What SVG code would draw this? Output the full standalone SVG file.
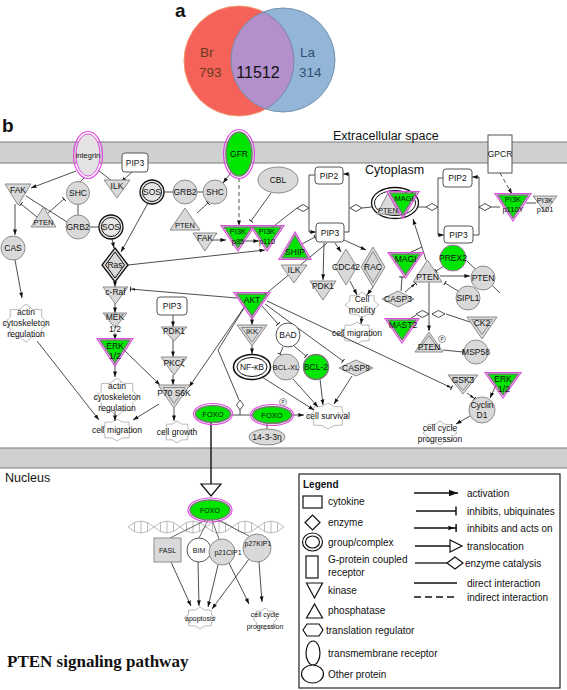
<svg xmlns="http://www.w3.org/2000/svg" width="567" height="690" viewBox="0 0 567 690">
<defs>
<style>
text{font-family:"Liberation Sans",Arial,sans-serif;fill:#111;text-anchor:middle}
.l{font-size:8.5px}
.s{font-size:7.5px}
.xs{font-size:7px}
.lg{font-size:10px;text-anchor:start}
.hd{font-size:12.5px;text-anchor:start}
.e{fill:none;stroke:#222;stroke-width:0.8}
.n{fill:none;stroke:#444;stroke-width:0.8}
.d{stroke-dasharray:4,3}
.g{fill:#d9d9d9;stroke:#8c8c8c;stroke-width:1}
.gi{fill:none;stroke:#8c8c8c;stroke-width:1}
.w{fill:#fff;stroke:#555;stroke-width:1}
.gr{fill:#00e600;stroke:#7a7a7a;stroke-width:1.5}
.mg{fill:none;stroke:#e04ce0;stroke-width:1.2}
.k{fill:#fff;stroke:#111;stroke-width:1.3}
.ki{fill:none;stroke:#111;stroke-width:1}
.ls{fill:#fff;stroke:#111;stroke-width:1.2}
.le{fill:none;stroke:#111;stroke-width:1.3}
.band{fill:#d0d0d0;stroke:#7a7a7a;stroke-width:1}
.dna{fill:none;stroke:#a8a8a8;stroke-width:0.8}
</style>
<clipPath id="cr"><circle cx="239" cy="61" r="55"/></clipPath>
<clipPath id="cb"><circle cx="283" cy="60" r="52"/></clipPath>
<marker id="a" viewBox="0 0 10 10" refX="10" refY="5" markerWidth="7" markerHeight="7" orient="auto"><path d="M0,1.5 L10,5 L0,8.5z" fill="#111"/></marker>
<marker id="b" viewBox="0 0 10 10" refX="8" refY="5" markerWidth="7" markerHeight="7" orient="auto"><path d="M8,0 V10" stroke="#111" stroke-width="1.6"/></marker>
<marker id="ab" viewBox="0 0 10 10" refX="9.5" refY="5" markerWidth="7" markerHeight="7" orient="auto"><path d="M0,2.5 L7,5 L0,7.5z" fill="#111"/><path d="M8.5,0.5 V9.5" stroke="#111" stroke-width="1.6"/></marker>
<polygon id="st" points="1,0 0.72,0.3 0.71,0.71 0.3,0.72 0,1 -0.3,0.72 -0.71,0.71 -0.72,0.3 -1,0 -0.72,-0.3 -0.71,-0.71 -0.3,-0.72 0,-1 0.3,-0.72 0.71,-0.71 0.72,-0.3" fill="#fff" stroke="#a8a8a8" stroke-width="0.8" vector-effect="non-scaling-stroke"/>
</defs>
<rect width="567" height="690" fill="#fff"/>

<g id="panel-a">
<text x="175" y="17" style="font-size:19px;font-weight:bold;text-anchor:start">a</text>
<circle cx="239" cy="61" r="55" fill="#f4625a" stroke="#f09a70" stroke-width="1"/>
<circle cx="283" cy="60" r="52" fill="#93b6d8"/>
<circle cx="283" cy="60" r="52" fill="#b38fcb" clip-path="url(#cr)"/>
<circle cx="239" cy="61" r="55" fill="none" stroke="#6e7f95" stroke-width="0.8" clip-path="url(#cb)"/>
<circle cx="283" cy="60" r="52" fill="none" stroke="#6e8ca8" stroke-width="0.9"/>
<text x="200" y="57" style="font-size:13.5px;text-anchor:start;fill:#6b3a20">Br</text>
<text x="199" y="77" style="font-size:13.5px;text-anchor:start;fill:#6b3a20">793</text>
<text x="258" y="78" style="font-size:16px">11512</text>
<text x="300" y="57" style="font-size:13.5px;text-anchor:start;fill:#2f5070">La</text>
<text x="299" y="77" style="font-size:13.5px;text-anchor:start;fill:#2f5070">314</text>
</g>

<g id="panel-b-frame">
<text x="2" y="132" style="font-size:19px;font-weight:bold;text-anchor:start">b</text>
<rect x="-1" y="142" width="569" height="21" class="band"/>
<rect x="-1" y="448" width="569" height="20" class="band"/>
<text x="333" y="140" class="hd">Extracellular space</text>
<text x="365" y="174" class="hd">Cytoplasm</text>
<text x="5" y="482" class="hd">Nucleus</text>
<text x="7" y="667" style="font-family:'Liberation Serif','Times New Roman',serif;font-size:17px;font-weight:bold;text-anchor:start">PTEN signaling pathway</text>
</g>

<g id="dna">
<path class="dna" d="M128,527 Q141,515 154,527 T180,527 T206,527 T232,527 T258,527 T284,527"/>
<path class="dna" d="M128,527 Q141,539 154,527 T180,527 T206,527 T232,527 T258,527 T284,527"/>
<path class="dna" d="M134.5,522.5V531.5M141,521V533M147.5,522.5V531.5M160.5,522.5V531.5M167,521V533M173.5,522.5V531.5M186.5,522.5V531.5M193,521V533M199.5,522.5V531.5M212.5,522.5V531.5M219,521V533M225.5,522.5V531.5M238.5,522.5V531.5M245,521V533M251.5,522.5V531.5M264.5,522.5V531.5M271,521V533M277.5,522.5V531.5"/>
</g>

<g id="functions">
<use href="#st" transform="translate(26,323) scale(22,19)"/>
<use href="#st" transform="translate(117,397) scale(22,19)"/>
<use href="#st" transform="translate(117,430) scale(17,11)"/>
<use href="#st" transform="translate(177,432) scale(15,11)"/>
<use href="#st" transform="translate(328,416) scale(20,13)"/>
<use href="#st" transform="translate(362,305) scale(17,13)"/>
<use href="#st" transform="translate(357,333) scale(17,11)"/>
<use href="#st" transform="translate(440,433) scale(17,12)"/>
<use href="#st" transform="translate(200,618) scale(16,11)"/>
<use href="#st" transform="translate(265,619) scale(12,11)"/>
</g>

<g id="edges">
<path class="e" d="M76,171 L31,188" marker-end="url(#a)"/>
<path class="e" d="M84,178 L80,182"/>
<path class="e" d="M98,170 L112,181"/>
<path class="e" d="M132,172 L121,182" marker-end="url(#a)"/>
<path class="e" d="M78,204 L78,215"/>
<path class="e" d="M90,227 L99,227"/>
<path class="e" d="M26,196 L67,222"/>
<path class="e" d="M37,217 L21,204" marker-end="url(#b)"/>
<path class="e" d="M47,214 L64,199" marker-end="url(#b)"/>
<path class="e" d="M15,204 L15,235" marker-end="url(#a)"/>
<path class="e" d="M112,239 L114,248" marker-end="url(#a)"/>
<path class="e" d="M148,203 L121,252" marker-end="url(#a)"/>
<path class="e" d="M164,192 L173,192"/>
<path class="e" d="M197,192 L203,192"/>
<path class="e" d="M197,213 L208,203" marker-end="url(#b)"/>
<path class="e" d="M233,170 L223,183" marker-end="url(#a)"/>
<path class="e d" d="M239,178 L239,226" marker-end="url(#a)"/>
<path class="e" d="M271,193 L251,221" marker-end="url(#b)"/>
<path class="e" d="M213,240 L226,240" marker-end="url(#a)"/>
<path class="e" d="M244,241 L259,241" marker-end="url(#a)"/>
<path class="e" d="M128,265 L265,250" marker-end="url(#a)"/>
<path class="e" d="M270,229 L297,208"/>
<path class="e" d="M315,175 H309 V232 H316" marker-end="url(#a)"/>
<path class="e" d="M344,232 H349 V174 H343" marker-end="url(#a)"/>
<path class="e" d="M362,208 L372,207"/>
<path class="e" d="M443,178 H438 V235 H444" marker-end="url(#a)"/>
<path class="e" d="M473,235 H479 V177 H472" marker-end="url(#a)"/>
<path class="e" d="M418,207 L426,207"/>
<path class="e" d="M491,207 L500,207"/>
<path class="e d" d="M500,173 L512,194" marker-end="url(#a)"/>
<path class="e" d="M526,203 L536,203"/>
<path class="e" d="M302,244 L315,237" marker-end="url(#b)"/>
<path class="e" d="M327,243 L262,297" marker-end="url(#a)"/>
<path class="e" d="M324,243 L323,280" marker-end="url(#a)"/>
<path class="e" d="M335,243 L341,252" marker-end="url(#a)"/>
<path class="e" d="M344,240 L366,250" marker-end="url(#a)"/>
<path class="e" d="M350,281 L357,295" marker-end="url(#a)"/>
<path class="e" d="M373,287 L367,295" marker-end="url(#a)"/>
<path class="e" d="M362,316 L361,324" marker-end="url(#a)"/>
<path class="e" d="M426,260 L413,219" marker-end="url(#a)"/>
<path class="e" d="M407,254 L422,247"/>
<path class="e" d="M444,266 L436,271" marker-end="url(#b)"/>
<path class="e" d="M440,276 L470,276" marker-end="url(#a)"/>
<path class="e" d="M467,261 L500,293"/>
<path class="e" d="M458,291 L445,283" marker-end="url(#b)"/>
<path class="e" d="M405,292 L416,283" marker-end="url(#ab)"/>
<path class="e" d="M401,291 L402,277" marker-end="url(#b)"/>
<path class="e" d="M429,282 L429,331" marker-end="url(#a)"/>
<path class="e" d="M405,322 L416,315"/>
<path class="e" d="M470,322 L446,314"/>
<path class="e" d="M443,350 L463,352" marker-end="url(#b)"/>
<path class="e" d="M267,301 L452,388" marker-end="url(#ab)"/>
<path class="e" d="M467,393 L475,399" marker-end="url(#ab)"/>
<path class="e" d="M496,385 L490,398" marker-end="url(#a)"/>
<path class="e" d="M470,416 L456,424" marker-end="url(#a)"/>
<path class="e" d="M15,260 L22,298" marker-end="url(#a)"/>
<path class="e" d="M37,341 L99,420" marker-end="url(#a)"/>
<path class="e" d="M115,281 L115,287" marker-end="url(#a)"/>
<path class="e" d="M115,303 L115,313" marker-end="url(#a)"/>
<path class="e" d="M115,333 L115,340" marker-end="url(#a)"/>
<path class="e" d="M115,363 L115,377" marker-end="url(#a)"/>
<path class="e" d="M124,350 L160,385" marker-end="url(#a)"/>
<path class="e" d="M115,411 L115,421" marker-end="url(#a)"/>
<path class="e" d="M159,404 L133,420" marker-end="url(#a)"/>
<path class="e" d="M174,408 L174,421" marker-end="url(#a)"/>
<path class="e" d="M173,315 L173,327" marker-end="url(#a)"/>
<path class="e" d="M173,340 L173,357" marker-end="url(#a)"/>
<path class="e" d="M173,375 L173,385" marker-end="url(#a)"/>
<path class="e" d="M237,298 L130,289" marker-end="url(#ab)"/>
<path class="e" d="M245,306 L189,387" marker-end="url(#a)"/>
<path class="e" d="M252,316 L252,325" marker-end="url(#a)"/>
<path class="e" d="M262,306 L278,324" marker-end="url(#b)"/>
<path class="e" d="M265,304 L343,361" marker-end="url(#b)"/>
<path class="e" d="M244,308 L218,350 L239,400"/>
<path class="e" d="M252,345 L252,354" marker-end="url(#a)"/>
<path class="e" d="M283,347 L280,354" marker-end="url(#b)"/>
<path class="e" d="M294,346 L306,356" marker-end="url(#b)"/>
<path class="e" d="M262,377 L314,410" marker-end="url(#a)"/>
<path class="e" d="M293,379 L318,407" marker-end="url(#a)"/>
<path class="e" d="M320,379 L323,405" marker-end="url(#a)"/>
<path class="e" d="M352,376 L334,404" marker-end="url(#a)"/>
<path class="e" d="M292,415 L304,415" marker-end="url(#a)"/>
<path class="e" d="M231,415 L252,415"/>
<path class="e" d="M240,410 L240,415"/>
<path class="e" d="M267,424 L267,429"/>
<path d="M211,423 L211,484" fill="none" stroke="#111" stroke-width="1.4"/>
<polygon points="201,484 221,484 211,496" fill="#fff" stroke="#111" stroke-width="1.2"/>
<path class="n" d="M206,520 L170,538"/>
<path class="n" d="M208,520 L199,538"/>
<path class="n" d="M212,520 L219,539"/>
<path class="n" d="M216,519 L249,536"/>
<path class="e" d="M171,562 L191,606" marker-end="url(#a)"/>
<path class="e" d="M198,562 L199,606" marker-end="url(#a)"/>
<path class="e" d="M218,565 L208,607" marker-end="url(#a)"/>
<path class="e" d="M249,559 L212,609" marker-end="url(#a)"/>
<path class="e" d="M229,563 L249,604" marker-end="url(#a)"/>
<path class="e" d="M259,562 L262,602" marker-end="url(#a)"/>
</g>

<g id="integrin"><ellipse cx="88" cy="155" rx="14.5" ry="23.5" class="mg"/><ellipse cx="88" cy="155" rx="12" ry="21" fill="#e3e3e3" stroke="#e04ce0" stroke-width="1"/><text x="88" y="158" class="s">integrin</text></g>
<g id="pip3-a"><rect x="122" y="153" width="26" height="19" rx="3" class="w"/><text x="135" y="165.5" class="l">PIP3</text></g>
<g id="ilk-a"><polygon points="104,180 130,180 117,198" class="g"/><text x="117" y="188.5" class="l">ILK</text></g>
<g id="fak-a"><polygon points="5,184 31,184 18,205" class="g"/><text x="18" y="192.5" class="l">FAK</text></g>
<g id="shc-a"><circle cx="78" cy="193" r="11.5" class="g"/><text x="78" y="196" class="l">SHC</text></g>
<g id="pten-a"><polygon points="31,227 56,227 43.5,207" class="g"/><text x="43.5" y="225" class="s">PTEN</text></g>
<g id="grb2-a"><circle cx="78" cy="227" r="12" class="g"/><text x="78" y="230" class="l">GRB2</text></g>
<g id="sos-a"><circle cx="111" cy="227" r="12" class="k" style="fill:#e6e6e6"/><circle cx="111" cy="227" r="9.5" class="ki"/><text x="111" y="230" class="l">SOS</text></g>
<g id="cas"><circle cx="13" cy="248" r="12" class="g"/><text x="13" y="251" class="l">CAS</text></g>
<g id="sos-b"><circle cx="152" cy="192" r="12" class="k" style="fill:#e6e6e6"/><circle cx="152" cy="192" r="9.5" class="ki"/><text x="152" y="195" class="l">SOS</text></g>
<g id="grb2-b"><circle cx="185" cy="192" r="12" class="g"/><text x="185" y="195" class="l">GRB2</text></g>
<g id="shc-b"><circle cx="215" cy="192" r="12" class="g"/><text x="215" y="195" class="l">SHC</text></g>
<g id="pten-b"><polygon points="170,230 200,230 185,208" class="g"/><text x="185" y="228" class="s">PTEN</text></g>
<g id="fak-b"><polygon points="193,233 217,233 205,251" class="g"/><text x="205" y="241" class="l">FAK</text></g>
<g id="gfr"><ellipse cx="239" cy="154" rx="15.5" ry="24.5" class="mg"/><ellipse cx="239" cy="154" rx="13" ry="22" class="gr"/><text x="239" y="157" class="l">GFR</text></g>
<g id="cbl"><ellipse cx="278" cy="180" rx="20" ry="13" class="g"/><text x="278" y="183" class="l">CBL</text></g>
<g id="pi3k-p85"><polygon points="221,225.5 255,225.5 238,251" class="mg"/><polygon points="224,227 252,227 238,248" class="gr"/><text x="238" y="234" class="s">PI3K</text><text x="238" y="243.5" class="s">p85</text></g>
<g id="pi3k-p110"><polygon points="250,225.5 284,225.5 267,251" class="mg"/><polygon points="253,227 281,227 267,248" class="gr"/><text x="267" y="234" class="s">PI3K</text><text x="267" y="243.5" class="s">p110</text></g>
<g id="pip2-c"><rect x="315" y="167" width="28" height="17" rx="3" class="w"/><text x="329" y="178.5" class="l">PIP2</text></g>
<g id="pip3-c"><rect x="316" y="223" width="28" height="19" rx="3" class="w"/><text x="330" y="235.5" class="l">PIP3</text></g>
<g id="cat-c1"><polygon points="297,208 303,204.5 309,208 303,211.5" fill="#fff" stroke="#222" stroke-width="0.8"/></g>
<g id="cat-c2"><polygon points="350,208 356,204.5 362,208 356,211.5" fill="#fff" stroke="#222" stroke-width="0.8"/></g>
<g id="pten-magi-complex"><ellipse cx="395" cy="203" rx="23.5" ry="15.5" class="k"/><ellipse cx="395" cy="203" rx="20.5" ry="12.5" class="ki"/><polygon points="377,214 399,214 388,193" class="g"/><polygon points="387,191.5 419,191.5 403,218" class="mg"/><polygon points="390,193 416,193 403,215" class="gr"/><text x="388" y="212.5" class="s">PTEN</text><text x="404" y="201" class="s">MAGI</text></g>
<g id="pip2-r"><rect x="443" y="169" width="29" height="18" rx="3" class="w"/><text x="457.5" y="181" class="l">PIP2</text></g>
<g id="pip3-r"><rect x="444" y="226" width="29" height="17" rx="3" class="w"/><text x="458.5" y="237.5" class="l">PIP3</text></g>
<g id="cat-r1"><polygon points="426,207 432,203.5 438,207 432,210.5" fill="#fff" stroke="#222" stroke-width="0.8"/></g>
<g id="cat-r2"><polygon points="479,207 485,203.5 491,207 485,210.5" fill="#fff" stroke="#222" stroke-width="0.8"/></g>
<g id="gpcr"><rect x="488" y="135" width="24" height="38" fill="#fff" stroke="#555" stroke-width="1"/><text x="500" y="157" class="l">GPCR</text></g>
<g id="pi3k-p110y"><polygon points="495,193.5 531,193.5 513,221" class="mg"/><polygon points="498,195 528,195 513,218" class="gr"/><text x="513" y="202" class="s">PI3K</text><text x="513" y="212" class="s">p110Y</text></g>
<g id="pi3k-p101"><polygon points="533,196 557,196 545,212" class="g"/><text x="545" y="202.5" class="s">PI3K</text><text x="545" y="212" class="s">p101</text></g>
<g id="ship"><polygon points="279,259.5 311,259.5 295,232" class="mg"/><polygon points="282,258 308,258 295,235" class="gr"/><text x="295" y="255" class="l">SHIP</text></g>
<g id="ilk-b"><polygon points="281,265 307,265 294,283" class="g"/><text x="294" y="273" class="l">ILK</text></g>
<g id="pdk1-b"><polygon points="310,281 336,281 323,300" class="g"/><text x="323" y="289" class="l">PDK1</text></g>
<g id="cdc42"><polygon points="346,249 357,267 346,285 335,267" class="g"/><text x="346" y="270" class="l">CDC42</text></g>
<g id="rac"><polygon points="373,247 385,267 373,287 361,267" class="g"/><polygon points="373,251.5 382,267 373,282.5 364,267" class="gi"/><text x="373" y="270" class="l">RAC</text></g>
<g id="cell-motility"><text x="362" y="302" class="l">Cell</text><text x="362" y="313" class="l">motility</text></g>
<g id="cell-migration-r"><text x="357" y="336" class="l">cell migration</text></g>
<g id="akt"><polygon points="234,292.5 270,292.5 252,319" class="mg"/><polygon points="237,294 267,294 252,316" class="gr"/><text x="252" y="302.5" class="l">AKT</text></g>
<g id="ikk"><polygon points="237,325 267,325 252,346" class="g"/><polygon points="241.5,327.5 262.5,327.5 252,342" class="gi"/><text x="252" y="334" class="s">IKK</text></g>
<g id="bad"><circle cx="288" cy="335" r="12" class="w"/><text x="288" y="338" class="l">BAD</text></g>
<g id="nfkb"><ellipse cx="252" cy="367" rx="18.5" ry="12.5" fill="#fff" stroke="#111" stroke-width="1.6"/><ellipse cx="252" cy="367" rx="15" ry="9.5" class="ki"/><text x="252" y="370" class="l">NF-κB</text></g>
<g id="bcl-xl"><circle cx="286" cy="367" r="13" class="g"/><text x="286" y="370" class="s">BCL-XL</text></g>
<g id="bcl-2"><circle cx="316" cy="367" r="12.5" class="gr"/><text x="316" y="370" class="l">BCL-2</text></g>
<g id="casp9"><polygon points="339,368 356,360 373,368 356,376" class="g"/><text x="356" y="371" class="l">CASP9</text></g>
<g id="cell-survival"><text x="328" y="419" class="l">cell survival</text></g>
<g id="foxo-a"><ellipse cx="213" cy="414" rx="19.5" ry="10.5" class="mg"/><ellipse cx="213" cy="414" rx="17.5" ry="8.5" class="gr"/><text x="213" y="417" class="s">FOXO</text></g>
<g id="cat-foxo"><polygon points="240,400 243.5,405 240,410 236.5,405" fill="#fff" stroke="#222" stroke-width="0.8"/></g>
<g id="foxo-b"><ellipse cx="272" cy="415" rx="21.5" ry="10.5" class="mg"/><ellipse cx="272" cy="415" rx="19.5" ry="8.5" class="gr"/><text x="272" y="418" class="s">FOXO</text><circle cx="283" cy="402" r="3.5" fill="#fff" stroke="#555" stroke-width="0.6"/><text x="283" y="404" style="font-size:4.5px">P</text></g>
<g id="p14-3-3"><ellipse cx="267" cy="437" rx="18" ry="8" class="g"/><text x="267" y="440" class="l">14-3-3η</text></g>
<g id="ras"><polygon points="115,248 128,265 115,282 102,265" fill="#d9d9d9" stroke="#111" stroke-width="1.3"/><polygon points="115,252 124.5,265 115,278 105.5,265" class="ki"/><text x="115" y="268" class="l">Ras</text></g>
<g id="c-raf"><polygon points="103,287 128,287 115.5,304" class="g"/><text x="115.5" y="294.5" class="l">c-Raf</text></g>
<g id="mek"><polygon points="103,313 127,313 115,328" class="g"/><text x="115" y="320" class="l">MEK</text><text x="115" y="331.5" class="l">1/2</text></g>
<g id="erk-a"><polygon points="97,338.5 133,338.5 115,366" class="mg"/><polygon points="100,340 130,340 115,363" class="gr"/><text x="115" y="349" class="l">ERK</text><text x="115" y="359" class="l">1/2</text></g>
<g id="actin-b"><text x="117" y="388.5" class="l">actin</text><text x="117" y="399.5" class="l">cytoskeleton</text><text x="117" y="410.5" class="l">regulation</text></g>
<g id="cell-migration-l"><text x="117" y="433" class="l">cell migration</text></g>
<g id="actin-a"><text x="26" y="315" class="l">actin</text><text x="26" y="326" class="l">cytoskeleton</text><text x="26" y="337" class="l">regulation</text></g>
<g id="pip3-l"><rect x="157" y="297" width="30" height="18" rx="3" class="w"/><text x="172" y="309" class="l">PIP3</text></g>
<g id="pdk1-a"><polygon points="161,327 187,327 174,341" class="g"/><text x="174" y="334" class="l">PDK1</text></g>
<g id="pkcz"><polygon points="161,357 187,357 174,375" class="g"/><text x="174" y="365.5" class="l">PKCζ</text></g>
<g id="p70s6k"><polygon points="158,385 190,385 174,408" class="g"/><polygon points="163,387.5 185,387.5 174,403.5" class="gi"/><text x="174" y="396" class="l">P70 S6K</text></g>
<g id="cell-growth"><text x="177" y="435" class="l">cell growth</text></g>
<g id="magi-b"><polygon points="388,252.5 423,252.5 405.5,278" class="mg"/><polygon points="391,254 420,254 405.5,275" class="gr"/><text x="405.5" y="262" class="l">MAGI</text></g>
<g id="pten-circle"><circle cx="483" cy="278" r="12" class="g"/><text x="483" y="281" class="l">PTEN</text></g>
<g id="prex2"><circle cx="453" cy="258" r="13" fill="#00e600" stroke="#b070b0" stroke-width="1"/><text x="453" y="261" class="l">PREX2</text></g>
<g id="pten-c"><polygon points="413,282 442,282 427.5,260" class="g"/><text x="427.5" y="279.5" class="l">PTEN</text></g>
<g id="sipl1"><circle cx="468" cy="298" r="12" class="g"/><text x="468" y="301" class="l">SIPL1</text></g>
<g id="casp3"><polygon points="382,299 398,291 414,299 398,307" class="g"/><text x="398" y="302" class="l">CASP3</text></g>
<g id="mast2"><polygon points="385,318.5 419,318.5 402,343" class="mg"/><polygon points="388,320 416,320 402,340" class="gr"/><text x="403" y="328" class="l">MAST2</text></g>
<g id="ck2"><polygon points="467,317 497,317 482,339" class="g"/><polygon points="471.5,319.5 492.5,319.5 482,334.5" class="gi"/><text x="482" y="326" class="l">CK2</text></g>
<g id="cat-p1"><polygon points="416,314 422.5,310.5 429,314 422.5,317.5" fill="#fff" stroke="#222" stroke-width="0.8"/></g>
<g id="cat-p2"><polygon points="432,314 438.5,310.5 445,314 438.5,317.5" fill="#fff" stroke="#222" stroke-width="0.8"/></g>
<g id="pten-p"><polygon points="415,352 443,352 429,332" class="g"/><polygon points="419,349.5 439,349.5 429,335.5" class="gi"/><text x="429" y="349.5" class="l">PTEN</text><circle cx="442" cy="339" r="3.5" fill="#fff" stroke="#555" stroke-width="0.6"/><text x="442" y="341" style="font-size:4.5px">P</text></g>
<g id="msp58"><circle cx="476" cy="352" r="12" class="g"/><text x="476" y="355" class="l">MSP58</text></g>
<g id="gsk3"><polygon points="448,375 478,375 463,394" class="g"/><polygon points="452.5,377.5 473.5,377.5 463,390.5" class="gi"/><text x="463" y="383" class="l">GSK3</text></g>
<g id="erk-b"><polygon points="485,372.5 521,372.5 503,398" class="mg"/><polygon points="488,374 518,374 503,395" class="gr"/><text x="503" y="382" class="l">ERK</text><text x="504" y="392" class="l">1/2</text></g>
<g id="cyclin-d1"><circle cx="482" cy="410" r="13" class="g"/><text x="482" y="408" class="l">Cyclin</text><text x="482" y="418" class="l">D1</text></g>
<g id="cell-cycle-a"><text x="440" y="431" class="l">cell cycle</text><text x="440" y="442" class="l">progression</text></g>

<g id="foxo-nuc"><ellipse cx="210" cy="510" rx="22" ry="12" class="mg"/><ellipse cx="210" cy="510" rx="20" ry="10" class="gr"/><text x="210" y="512.5" class="xs">FOXO</text></g>
<g id="fasl"><rect x="154" y="538" width="27" height="24" class="g"/><text x="167.5" y="552.5" class="xs">FASL</text></g>
<g id="bim"><circle cx="199" cy="550" r="12" class="w"/><text x="199" y="552.5" class="xs">BIM</text></g>
<g id="p21"><circle cx="222" cy="552" r="13" class="g"/><text x="228" y="554.5" class="xs">p21CIP1</text></g>
<g id="p27"><circle cx="257" cy="548" r="14" class="g"/><text x="258" y="546" class="xs">p27KIP1</text></g>
<g id="apoptosis"><text x="200" y="621" class="xs">apoptosis</text></g>
<g id="cell-cycle-b"><text x="265" y="617" class="xs">cell cycle</text><text x="265" y="628.5" class="xs">progression</text></g>

<g id="legend">
<rect x="299" y="474" width="261" height="214" fill="#fff" stroke="#222" stroke-width="1.2"/>
<text x="303" y="488" class="lg" style="font-weight:bold">Legend</text>
<rect x="303" y="496" width="19" height="12" class="ls"/>
<text x="328" y="505" class="lg">cytokine</text>
<polygon points="305,522.5 312.5,515 320,522.5 312.5,530" class="ls"/>
<text x="328" y="526" class="lg">enzyme</text>
<ellipse cx="312.5" cy="542" rx="10" ry="9" class="ls"/><ellipse cx="312.5" cy="542" rx="7" ry="6" class="ls"/>
<text x="328" y="546" class="lg">group/complex</text>
<rect x="306" y="556" width="12" height="22" class="ls"/>
<text x="328" y="563" class="lg">G-protein coupled</text>
<text x="328" y="576" class="lg">receptor</text>
<polygon points="306.5,583 322.5,583 314.5,598" class="ls"/>
<text x="328" y="594" class="lg">kinase</text>
<polygon points="306.5,618 322.5,618 314.5,604" class="ls"/>
<text x="328" y="614" class="lg">phosphatase</text>
<polygon points="303,630 307,624 319,624 323,630 319,636 307,636" class="ls"/>
<text x="326" y="634" class="lg">translation regulator</text>
<ellipse cx="313" cy="653" rx="7" ry="12" class="ls"/>
<text x="328" y="657" class="lg">transmembrane receptor</text>
<ellipse cx="312.5" cy="674" rx="11" ry="9" class="ls"/>
<text x="328" y="678" class="lg">Other protein</text>
<path class="le" d="M414,493 L458,493" marker-end="url(#a)"/>
<text x="467" y="496.5" class="lg">activation</text>
<path class="le" d="M416,511 L456,511" marker-end="url(#b)"/>
<text x="467" y="515" class="lg">inhibits, ubiquinates</text>
<path class="le" d="M414,528 L457,528" marker-end="url(#ab)"/>
<text x="467" y="532" class="lg">inhibits and acts on</text>
<path class="le" d="M415,546 L450,546"/>
<polygon points="450,540 450,552 462,546" class="ls"/>
<text x="467" y="549.5" class="lg">translocation</text>
<path class="le" d="M415,563 L447,563"/>
<polygon points="447,563 455,557 463,563 455,569" class="ls"/>
<text x="465" y="566.5" class="lg">enzyme catalysis</text>
<path class="le" d="M414,583 L457,583"/>
<text x="467" y="586.5" class="lg">direct interaction</text>
<path class="le" d="M414,597 L457,597" style="stroke-dasharray:7,4"/>
<text x="467" y="600.5" class="lg">indirect interaction</text>
</g>
</svg>
